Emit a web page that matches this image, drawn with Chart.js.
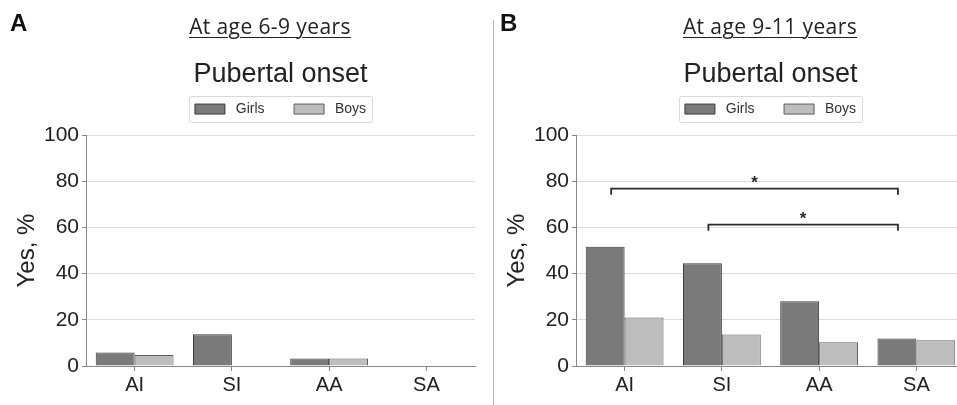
<!DOCTYPE html>
<html>
<head>
<meta charset="utf-8">
<script src="https://cdn.jsdelivr.net/npm/chart.js@4/dist/chart.umd.min.js"></script>
<style>
  html, body { margin: 0; padding: 0; background: #fff; }
  body { width: 957px; height: 405px; overflow: hidden; position: relative; }
  .panel { position: absolute; top: 0; width: 480px; height: 405px; }
  .letter { position: absolute; font: bold 24px "Liberation Sans", Arial, sans-serif; line-height: 1; color: #111; }
  .age { position: absolute; width: 300px; text-align: center; font: 21px "Open Sans", sans-serif; line-height: 1; color: #222; letter-spacing: 0.4px; }
  .age span { text-decoration: underline; text-underline-offset: 3px; text-decoration-thickness: 1px; }
  .divider { position: absolute; left: 493px; top: 20px; width: 1px; height: 385px; background: #b5b5b5; }
</style>
</head>
<body>
<div class="panel" style="left:0"><canvas id="chartA" width="480" height="405"></canvas></div>
<div class="panel" style="left:490px"><canvas id="chartB" width="480" height="405"></canvas></div>
<div class="divider"></div>
<div class="letter" style="left:10px;top:11px">A</div>
<div class="letter" style="left:500px;top:11px">B</div>
<div class="age" style="left:120px;top:16px"><span>At age 6-9 years</span></div>
<div class="age" style="left:620px;top:16px"><span>At age 9-11 years</span></div>
<script>
// ---- data ----
const categories = ['AI', 'SI', 'AA', 'SA'];
const seriesNames = ['Girls', 'Boys'];
const girlsA = [5.8, 13.8, 3.3, 0];
const boysA  = [4.8, 0, 3.3, 0];
const girlsB = [51.6, 44.5, 28.0, 11.9];
const boysB  = [21.0, 13.6, 10.3, 11.2];
const yTicks = [0, 20, 40, 60, 80, 100];
const bracketsA = [];
const bracketsB = [
  { from: 'AI', to: 'SA', y: 76.8, label: '*' },
  { from: 'SI', to: 'SA', y: 61.2, label: '*' }
];
const chartTitle = 'Pubertal onset';
const yTitle = 'Yes, %';

const FONT = '"Liberation Sans", Arial, sans-serif';

const legendBorder = {
  id: 'legendBorder',
  afterDraw(chart) {
    const lg = chart.legend;
    if (!lg || !lg.legendHitBoxes || !lg.legendHitBoxes.length) return;
    const hb = lg.legendHitBoxes;
    let l = Infinity, r = -Infinity, t = Infinity, b = -Infinity;
    hb.forEach(h => { l = Math.min(l, h.left); r = Math.max(r, h.left + h.width); t = Math.min(t, h.top); b = Math.max(b, h.top + h.height); });
    const ctx = chart.ctx;
    ctx.save();
    ctx.strokeStyle = '#d9d9d9';
    ctx.lineWidth = 1;
    ctx.beginPath();
    if (ctx.roundRect) ctx.roundRect(Math.round(l - 6) + 0.5, Math.round(t - 6) + 0.5, Math.round(r - l + 12), Math.round(b - t + 12), 2);
    else ctx.rect(Math.round(l - 6) + 0.5, Math.round(t - 6) + 0.5, Math.round(r - l + 12), Math.round(b - t + 12));
    ctx.stroke();
    ctx.restore();
  }
};

const bracketPlugin = {
  id: 'brackets',
  afterDatasetsDraw(chart, args, opts) {
    const list = opts.items || [];
    if (!list.length) return;
    const meta = chart.getDatasetMeta(0);
    const ys = chart.scales.y;
    const ctx = chart.ctx;
    ctx.save();
    ctx.strokeStyle = '#2a2a2a';
    ctx.lineWidth = 1.8;
    ctx.fillStyle = '#2a2a2a';
    list.forEach(br => {
      const i1 = categories.indexOf(br.from), i2 = categories.indexOf(br.to);
      const x1 = meta.data[i1].x + 6;
      const x2 = meta.data[i2].x + 1;
      const y = ys.getPixelForValue(br.y);
      ctx.beginPath();
      ctx.moveTo(x1, y + 6);
      ctx.lineTo(x1, y);
      ctx.lineTo(x2, y);
      ctx.lineTo(x2, y + 6);
      ctx.stroke();
      ctx.font = 'bold 17px ' + FONT;
      ctx.textAlign = 'center';
      ctx.textBaseline = 'middle';
      ctx.fillText(br.label, (x1 + x2) / 2, y - 5);
    });
    ctx.restore();
  }
};

function makeChart(id, girls, boys, brackets) {
  return new Chart(document.getElementById(id), {
    type: 'bar',
    data: {
      labels: categories,
      datasets: [
        { label: seriesNames[0], data: girls, backgroundColor: '#7a7a7a', borderColor: '#3a3a3a', borderWidth: 1 },
        { label: seriesNames[1], data: boys,  backgroundColor: '#bdbdbd', borderColor: '#5e5e5e', borderWidth: 1 }
      ]
    },
    options: {
      responsive: false,
      animation: false,
      devicePixelRatio: 1,
      layout: { padding: { top: 59, left: 4, right: 5, bottom: 0 } },
      datasets: { bar: { categoryPercentage: 0.8, barPercentage: 1.0 } },
      plugins: {
        title: {
          display: true, text: chartTitle, fullSize: false, color: '#222',
          font: { family: FONT, size: 27, weight: 'normal', lineHeight: 1.15 }, padding: { top: 0, bottom: 2 }
        },
        subtitle: {
          display: true, text: '', fullSize: false, weight: 500,
          font: { size: 9, lineHeight: 1 }, padding: 0
        },
        legend: {
          display: true, position: 'top', fullSize: false,
          labels: {
            boxWidth: 30, boxHeight: 10, padding: 10, color: '#333',
            font: { family: FONT, size: 14 },
            generateLabels(chart) {
              const items = Chart.defaults.plugins.legend.labels.generateLabels(chart);
              items.forEach((it, k) => { it.text = k === 0 ? ' ' + it.text + '     ' : ' ' + it.text; });
              return items;
            }
          }
        },
        tooltip: { enabled: false },
        brackets: { items: brackets }
      },
      scales: {
        x: {
          type: 'category',
          grid: { display: true, drawOnChartArea: false, offset: false, tickLength: 5, color: '#888' },
          border: { color: '#888', width: 1 },
          ticks: { color: '#222', padding: 2, font: { family: FONT, size: 20 } },
          afterFit(s) { s.height = 39; }
        },
        y: {
          min: 0, max: 100,
          afterBuildTicks(s) { s.ticks = yTicks.map(v => ({ value: v })); },
          grid: { color: '#dcdcdc', tickColor: '#888', tickLength: 4 },
          border: { color: '#888', width: 1 },
          ticks: { color: '#222', padding: 3, font: { family: FONT, size: 21 } },
          title: { display: true, text: yTitle, color: '#222', font: { family: FONT, size: 24 }, padding: { top: 9, bottom: 0 } },
          afterFit(s) { s.width = 82; }
        }
      }
    },
    plugins: [legendBorder, bracketPlugin]
  });
}

makeChart('chartA', girlsA, boysA, bracketsA);
makeChart('chartB', girlsB, boysB, bracketsB);
</script>
</body>
</html>
